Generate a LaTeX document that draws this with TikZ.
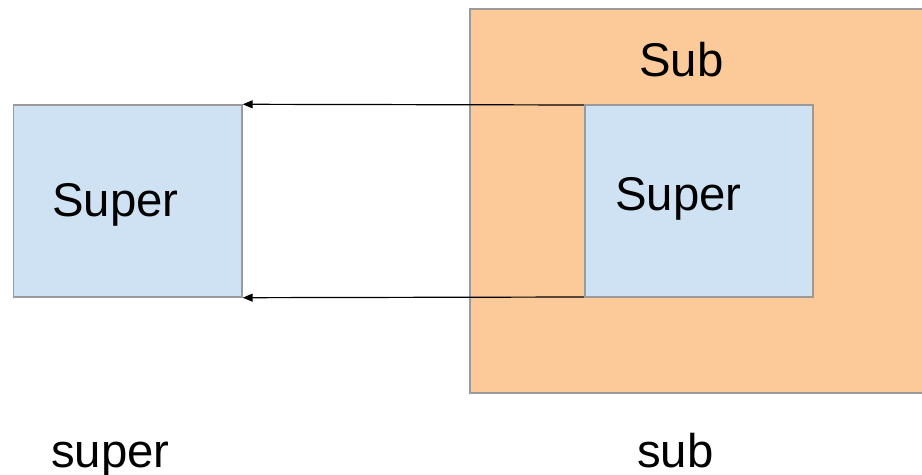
\documentclass[tikz,border=0pt]{standalone}
\usepackage{fontspec}
\setmainfont{Liberation Sans}
\usetikzlibrary{arrows.meta}
\definecolor{boxblue}{HTML}{CFE2F3}
\definecolor{boxorange}{HTML}{FCC998}
\definecolor{boxborder}{HTML}{9A9A9A}
\begin{document}
\begin{tikzpicture}[x=1bp,y=-1bp,
  box/.style={draw=boxborder,line width=1.4bp,inner sep=0pt},
  lbl/.style={inner sep=0pt,anchor=base west,font=\fontsize{47.5}{50}\selectfont},
  link/.style={draw=black,line width=1.2bp,-{Triangle[length=10bp,width=8bp]}}]
\useasboundingbox (0,0) rectangle (922,475);
\clip (0,0) rectangle (922,475);
\node[box,fill=boxorange,minimum width=480bp,minimum height=384bp] (sub) at (710,201) {};
\node[box,fill=boxblue,minimum width=228.5bp,minimum height=192bp] (lsuper) at (127.75,201) {};
\coordinate (ttop) at (585,105);
\coordinate (tbot) at (585,297);
\draw[link] (ttop) -- (lsuper.north east);
\draw[link] (tbot) -- (lsuper.south east);
\node[box,fill=boxblue,minimum width=228bp,minimum height=192bp] (rsuper) at (699,201) {};
\node[lbl] (lsupertxt) at (52,217) {Super};
\node[lbl] (rsupertxt) at (615,211) {Super};
\node[lbl] (subtxt) at (639,77) {Sub};
\node[lbl] (supercap) at (51,467) {super};
\node[lbl] (subcap) at (637,467) {sub};
\end{tikzpicture}
\end{document}
